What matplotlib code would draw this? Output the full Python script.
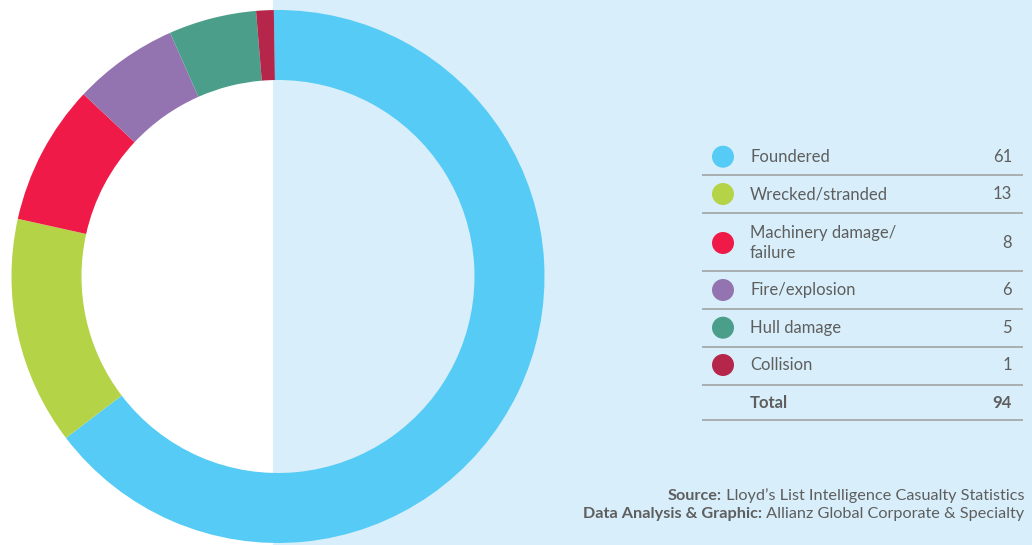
import matplotlib

matplotlib.use("Agg")
import matplotlib.pyplot as plt
from matplotlib.patches import Circle, Rectangle

# data
categories = ["Foundered", "Wrecked/stranded", "Machinery damage/\nfailure",
              "Fire/explosion", "Hull damage", "Collision"]
counts = [61, 13, 8, 6, 5, 1]
colors = ["#55cbf5", "#b5d347", "#ef1a47", "#9474b0", "#4a9e8a", "#b5264a"]
total_label = "Total"
source_lines = [
    ("Source:", " Lloyd\u2019s List Intelligence Casualty Statistics"),
    ("Data Analysis & Graphic:", " Allianz Global Corporate & Specialty"),
]

W, H = 1032, 545
BG = "#d8effb"
TEXT = "#5e5e5e"
RULE = "#9c9c9c"
plt.rcParams["font.family"] = ["Lato", "DejaVu Sans"]


def py(y):
    # pixel row (top-down) -> data y (bottom-up)
    return H - y


fig = plt.figure(figsize=(W / 100, H / 100), dpi=100)
ax = fig.add_axes([0, 0, 1, 1])

ax.add_patch(Rectangle((273, 0), W - 273, H, color=BG, zorder=0, lw=0))

ax.pie(counts, colors=colors, startangle=90.9, counterclock=False,
       radius=266.5, center=(278, py(276.5)),
       wedgeprops=dict(width=70, linewidth=0, antialiased=True))

# legend table
row_y = [156.7, 194, 243, 290, 327.7, 365]
rules = [175, 212.7, 271, 309, 346.7, 385, 420]
for y in rules:
    ax.plot([702, 1023], [py(y), py(y)], color=RULE, lw=1.1, solid_capstyle="butt")

FS = 12
for cat, n, c, y in zip(categories, counts, colors, row_y):
    ax.add_patch(Circle((723, py(y)), 11, color=c, lw=0, zorder=3))
    ax.text(750, py(y), cat, fontsize=FS, color=TEXT, va="center", ha="left",
            linespacing=1.3)
    ax.text(1012, py(y), str(n), fontsize=FS, color=TEXT, va="center", ha="right")

ax.text(750, py(403), total_label, fontsize=FS, color=TEXT, va="center",
        ha="left", fontweight="bold")
ax.text(1012, py(403), str(sum(counts)), fontsize=FS, color=TEXT, va="center",
        ha="right", fontweight="bold")

ax.set_xlim(0, W)
ax.set_ylim(0, H)
ax.set_aspect("equal")
ax.axis("off")

# source note: bold lead-in + regular text, right aligned
renderer = fig.canvas.get_renderer()
for (bold, rest), y in zip(source_lines, [496, 514]):
    t = ax.text(1024, py(y), rest, fontsize=11.7, color=TEXT, ha="right", va="center")
    bb = t.get_window_extent(renderer=renderer)
    x_left = ax.transData.inverted().transform((bb.x0, bb.y0))[0]
    ax.text(x_left, py(y), bold, fontsize=11.7, color=TEXT, ha="right", va="center",
            fontweight="bold")

fig.savefig("out.png", dpi=100, facecolor="white")
